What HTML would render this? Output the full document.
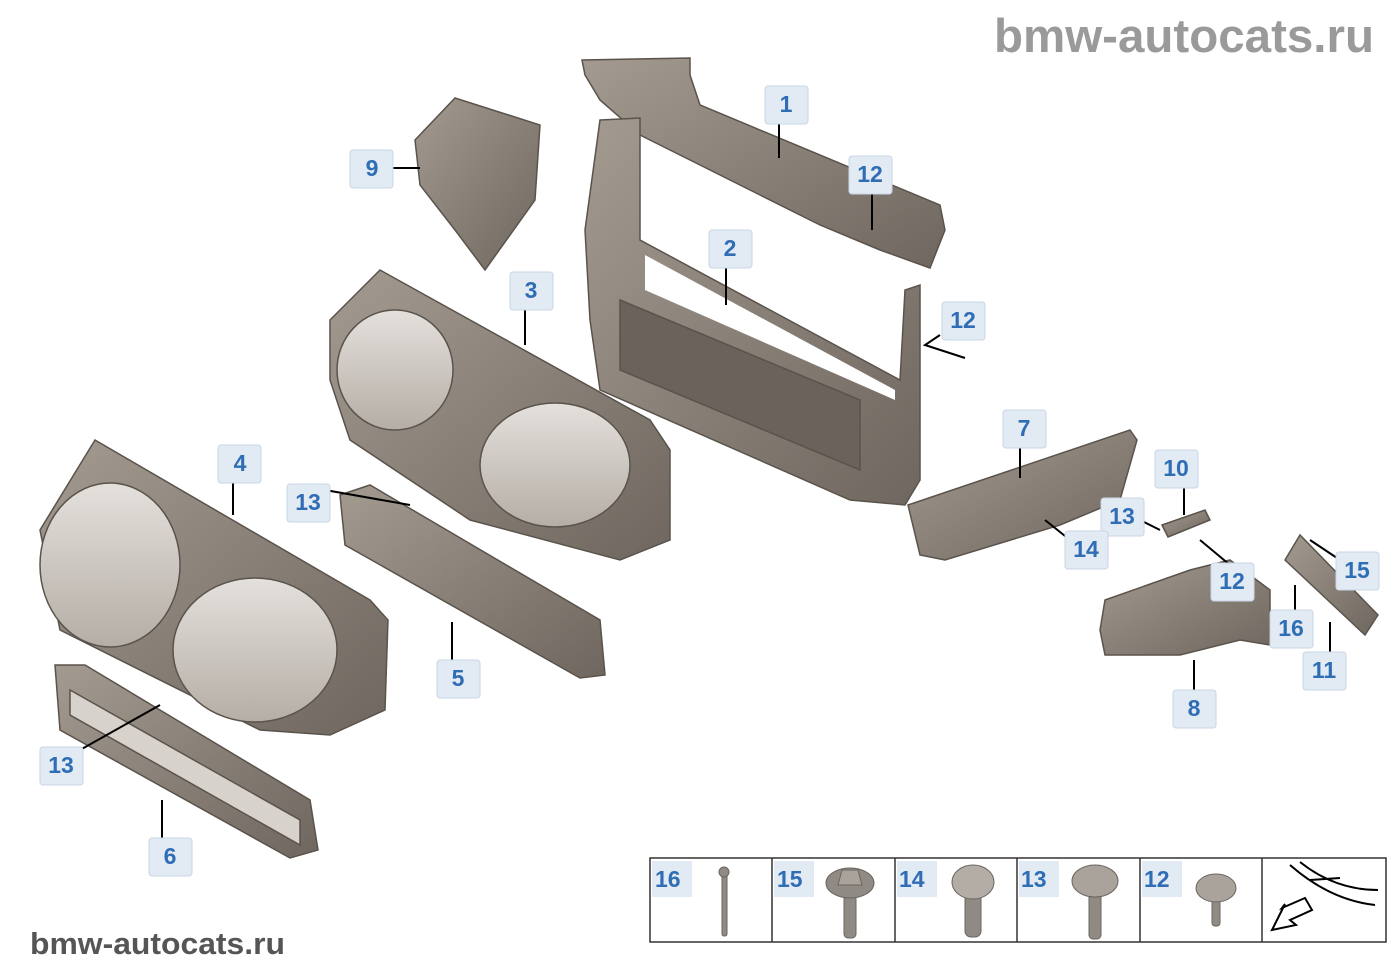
<!DOCTYPE html>
<html><head><meta charset="utf-8"><style>
html,body{margin:0;padding:0;background:#fff;}
svg{display:block;}
.lb{font-family:"Liberation Sans",sans-serif;font-weight:bold;font-size:23px;fill:#2f6db5;}
</style></head><body>
<svg width="1400" height="980" viewBox="0 0 1400 980" xmlns="http://www.w3.org/2000/svg">
<defs>
<linearGradient id="g" x1="0" y1="0" x2="1" y2="1"><stop offset="0" stop-color="#a39a90"/><stop offset="1" stop-color="#6f675f"/></linearGradient>
<linearGradient id="lens" x1="0" y1="0" x2="0" y2="1"><stop offset="0" stop-color="#e4e0dc"/><stop offset="1" stop-color="#b5aea6"/></linearGradient>
</defs>
<text x="1374" y="52" text-anchor="end" font-family="Liberation Sans,sans-serif" font-weight="bold" font-size="47" fill="#9a9a9a" textLength="380" lengthAdjust="spacingAndGlyphs">bmw-autocats.ru</text>
<text x="30" y="954" font-family="Liberation Sans,sans-serif" font-weight="bold" font-size="31" fill="#555" textLength="255" lengthAdjust="spacingAndGlyphs">bmw-autocats.ru</text>

<g stroke="#5a534c" stroke-width="1.5" fill="url(#g)">
<!-- 1 top carrier -->
<polygon points="582,60 690,58 690,75 700,105 940,205 945,230 930,268 880,250 820,225 760,195 700,165 640,135 600,100 585,75"/>
<!-- 2 frame -->
<polygon points="600,120 640,118 640,240 900,380 905,290 920,285 920,480 905,505 850,500 600,390 590,320 585,230" />
<polygon points="645,255 895,390 895,400 645,290" fill="#fff" stroke="none"/>
<polygon points="620,300 860,400 860,470 620,370" fill="#6b635b"/>
<!-- 9 duct -->
<polygon points="415,140 455,98 540,125 535,200 485,270 455,230 420,185" />
<!-- 3 shroud -->
<polygon points="330,320 380,270 650,420 670,450 670,540 620,560 470,520 350,440 330,380"/>
<ellipse cx="395" cy="370" rx="58" ry="60" fill="url(#lens)"/>
<ellipse cx="555" cy="465" rx="75" ry="62" fill="url(#lens)"/>
<!-- 4 front shroud -->
<polygon points="40,530 95,440 370,600 388,620 385,710 330,735 260,730 60,630"/>
<ellipse cx="110" cy="565" rx="70" ry="82" fill="url(#lens)"/>
<ellipse cx="255" cy="650" rx="82" ry="72" fill="url(#lens)"/>
<!-- 5 -->
<polygon points="340,495 370,485 600,620 605,675 580,678 345,545"/>
<!-- 6 -->
<polygon points="55,665 85,665 310,800 318,850 290,858 60,730"/>
<polygon points="70,690 300,820 300,845 70,715" fill="#d8d2cc"/>
<!-- 7 -->
<polygon points="908,505 1130,430 1137,440 1120,500 1060,525 945,560 920,555"/>
<!-- 8 -->
<polygon points="1105,600 1190,570 1230,560 1270,590 1270,645 1240,640 1180,655 1105,655 1100,630"/>
<!-- 10 -->
<polygon points="1162,525 1205,510 1210,520 1168,537"/>
<!-- 11 -->
<polygon points="1285,560 1300,535 1378,615 1365,635"/>
</g>

<g stroke="#000" stroke-width="2" fill="none">
<line x1="779" y1="120" x2="779" y2="158"/>
<line x1="872" y1="190" x2="872" y2="230"/>
<line x1="726" y1="266" x2="726" y2="305"/>
<polyline points="940,335 925,345 965,358"/>
<line x1="392" y1="168" x2="420" y2="168"/>
<line x1="525" y1="308" x2="525" y2="345"/>
<line x1="233" y1="480" x2="233" y2="515"/>
<line x1="325" y1="490" x2="410" y2="505"/>
<line x1="1020" y1="446" x2="1020" y2="478"/>
<line x1="1184" y1="487" x2="1184" y2="515"/>
<line x1="1140" y1="520" x2="1160" y2="530"/>
<line x1="1070" y1="540" x2="1045" y2="520"/>
<line x1="1230" y1="565" x2="1200" y2="540"/>
<line x1="1340" y1="560" x2="1310" y2="540"/>
<line x1="1295" y1="612" x2="1295" y2="585"/>
<line x1="1330" y1="652" x2="1330" y2="622"/>
<line x1="1194" y1="690" x2="1194" y2="660"/>
<line x1="452" y1="660" x2="452" y2="622"/>
<line x1="80" y1="750" x2="160" y2="705"/>
<line x1="162" y1="838" x2="162" y2="800"/>
</g>

<g font-family="Liberation Sans,sans-serif">
<g fill="#e2eaf4" stroke="#c9d6e6" stroke-width="1">
<rect x="765" y="86" width="43" height="38" rx="3"/>
<rect x="849" y="156" width="43" height="38" rx="3"/>
<rect x="709" y="230" width="43" height="38" rx="3"/>
<rect x="942" y="302" width="43" height="38" rx="3"/>
<rect x="350" y="150" width="43" height="38" rx="3"/>
<rect x="510" y="272" width="43" height="38" rx="3"/>
<rect x="218" y="445" width="43" height="38" rx="3"/>
<rect x="287" y="484" width="43" height="38" rx="3"/>
<rect x="1003" y="410" width="43" height="38" rx="3"/>
<rect x="1155" y="450" width="43" height="38" rx="3"/>
<rect x="1101" y="498" width="43" height="38" rx="3"/>
<rect x="1065" y="531" width="43" height="38" rx="3"/>
<rect x="1211" y="563" width="43" height="38" rx="3"/>
<rect x="1336" y="552" width="43" height="38" rx="3"/>
<rect x="1270" y="610" width="43" height="38" rx="3"/>
<rect x="1303" y="652" width="43" height="38" rx="3"/>
<rect x="1173" y="690" width="43" height="38" rx="3"/>
<rect x="437" y="660" width="43" height="38" rx="3"/>
<rect x="40" y="747" width="43" height="38" rx="3"/>
<rect x="149" y="838" width="43" height="38" rx="3"/>
</g>
<g class="lb" text-anchor="middle">
<text x="786" y="112">1</text><text x="870" y="182">12</text><text x="730" y="256">2</text>
<text x="963" y="328">12</text><text x="372" y="176">9</text><text x="531" y="298">3</text>
<text x="240" y="471">4</text><text x="308" y="510">13</text><text x="1024" y="436">7</text>
<text x="1176" y="476">10</text><text x="1122" y="524">13</text><text x="1086" y="557">14</text>
<text x="1232" y="589">12</text><text x="1357" y="578">15</text><text x="1291" y="636">16</text>
<text x="1324" y="678">11</text><text x="1194" y="716">8</text><text x="458" y="686">5</text>
<text x="61" y="773">13</text><text x="170" y="864">6</text>
</g>
</g>

<!-- table -->
<g stroke="#333" stroke-width="1.5" fill="none">
<rect x="650" y="858" width="736" height="84" fill="#fff"/>
<line x1="772" y1="858" x2="772" y2="942"/><line x1="895" y1="858" x2="895" y2="942"/>
<line x1="1017" y1="858" x2="1017" y2="942"/><line x1="1140" y1="858" x2="1140" y2="942"/>
<line x1="1262" y1="858" x2="1262" y2="942"/>
</g>
<g fill="#e2eaf4">
<rect x="652" y="861" width="40" height="36"/><rect x="774" y="861" width="40" height="36"/>
<rect x="897" y="861" width="40" height="36"/><rect x="1019" y="861" width="40" height="36"/>
<rect x="1142" y="861" width="40" height="36"/>
</g>
<g class="lb"><text x="655" y="887">16</text><text x="777" y="887">15</text><text x="899" y="887">14</text><text x="1021" y="887">13</text><text x="1144" y="887">12</text></g>
<g fill="#8f8a84" stroke="#6a655f">
<rect x="722" y="874" width="5" height="62" rx="2"/><ellipse cx="724" cy="872" rx="5" ry="5"/>
<rect x="844" y="880" width="12" height="58" rx="4"/><ellipse cx="850" cy="883" rx="24" ry="15"/><polygon points="842,870 858,870 862,885 838,885" fill="#a9a39c"/>
<rect x="965" y="885" width="16" height="52" rx="6"/><ellipse cx="973" cy="882" rx="21" ry="17" fill="#b3ada6"/>
<rect x="1089" y="885" width="12" height="54" rx="4"/><ellipse cx="1095" cy="881" rx="23" ry="16" fill="#a9a39c"/>
<rect x="1212" y="888" width="8" height="38" rx="3"/><ellipse cx="1216" cy="888" rx="20" ry="14" fill="#a9a39c"/>
</g>
<g stroke="#000" stroke-width="2" fill="none">
<path d="M1290,865 Q1330,900 1375,905 M1300,862 Q1335,890 1378,890 M1310,880 L1340,878"/>
<polygon points="1305,898 1282,908 1285,904 1272,930 1296,925 1290,920 1312,910" fill="#fff"/>
</g>
</svg>
</body></html>
